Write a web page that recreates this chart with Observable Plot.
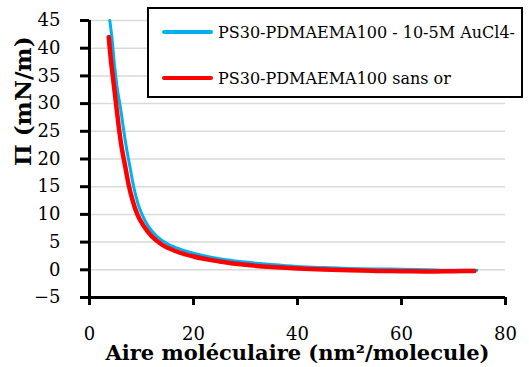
<!DOCTYPE html>
<html>
<head>
<meta charset="utf-8">
<script src="https://cdn.jsdelivr.net/npm/d3@7"></script>
<script src="https://cdn.jsdelivr.net/npm/@observablehq/plot@0.6"></script>
<style>
  html, body { margin: 0; padding: 0; background: #fff; }
  #wrap { position: relative; width: 529px; height: 367px; }
  #legend { position: absolute; left: 147px; top: 7px; width: 372px; height: 87px;
            border: 2px solid #000; background: #fff; font-family: "DejaVu Serif"; font-size: 16px; color: #000; }
  .item { position: absolute; left: 13px; height: 20px; display: flex; align-items: center; white-space: nowrap; }
  .sw { width: 51px; height: 4px; border-radius: 2px; margin-right: 5px; }
</style>
</head>
<body>
<div id="wrap"></div>
<script>
// Series names
const seriesNames = ["PS30-PDMAEMA100 - 10-5M AuCl4-", "PS30-PDMAEMA100 sans or"];
const seriesColors = ["#00B0F0", "#FF0000"];

// Blue series: PS30-PDMAEMA100 - 10-5M AuCl4-
const blueArea = [3.9, 4.3, 4.8, 5.3, 6.0, 6.6, 7.2, 7.8, 8.5, 9.3, 10.2, 11.5, 13, 15, 17.5, 20, 25, 30, 35, 40, 45, 50, 55, 60, 65, 70, 74.5];
const bluePi   = [45, 42, 37, 33, 29, 25, 21.5, 18.5, 15, 12, 9.8, 7.6, 6.0, 4.7, 3.7, 3.0, 2.0, 1.4, 0.95, 0.6, 0.4, 0.25, 0.15, 0.1, 0.0, -0.1, -0.1];

// Red series: PS30-PDMAEMA100 sans or
const redArea = [3.7, 4.1, 4.6, 5.1, 5.6, 6.2, 6.8, 7.5, 8.3, 9.2, 10.5, 12, 14, 16.5, 20, 25, 30, 35, 40, 45, 50, 55, 60, 65, 70, 74];
const redPi   = [42, 38, 34, 30, 26, 22, 19, 15.5, 12.5, 10, 7.8, 6.0, 4.5, 3.4, 2.4, 1.5, 0.9, 0.5, 0.25, 0.05, -0.1, -0.2, -0.25, -0.3, -0.25, -0.2];

// Axes
const xTicks = [0, 20, 40, 60, 80];
const yTicks = [-5, 0, 5, 10, 15, 20, 25, 30, 35, 40, 45];
const xLabel = "Aire moléculaire (nm²/molecule)";
const yLabel = "Π (mN/m)";

const blue = blueArea.map((x, i) => ({x, y: bluePi[i]}));
const red = redArea.map((x, i) => ({x, y: redPi[i]}));

const chart = Plot.plot({
  width: 529,
  height: 367,
  marginLeft: 89,
  marginRight: 24,
  marginTop: 20,
  marginBottom: 70,
  style: {fontFamily: "DejaVu Serif", fontSize: "18px", background: "#fff", color: "#000", overflow: "visible"},
  x: {domain: [0, 80]},
  y: {domain: [-5, 45]},
  marks: [
    Plot.gridY(yTicks.filter(d => d > -5), {stroke: "#D9D9D9", strokeOpacity: 1, strokeWidth: 1.5}),
    Plot.axisY({ticks: yTicks, tickSize: 9, tickPadding: 20, strokeWidth: 3, label: null, fontSize: 18}),
    Plot.axisX({ticks: xTicks, tickSize: 8, tickPadding: 22, strokeWidth: 3, label: null, fontSize: 18}),
    Plot.ruleX([0], {y1: -5, y2: 45, stroke: "#000", strokeWidth: 3}),
    Plot.ruleY([-5], {stroke: "#000", strokeWidth: 3}),
    Plot.line(blue, {x: "x", y: "y", stroke: seriesColors[0], strokeWidth: 3, curve: "monotone-x"}),
    Plot.line(red, {x: "x", y: "y", stroke: seriesColors[1], strokeWidth: 4.5, curve: "monotone-x"}),
    Plot.text([xLabel], {frameAnchor: "bottom", lineAnchor: "bottom", dy: 62, fontWeight: "bold", fontSize: 21}),
    Plot.text([yLabel], {frameAnchor: "left", rotate: -90, dx: -66, dy: 7, fontWeight: "bold", fontSize: 23})
  ]
});

const wrap = document.getElementById("wrap");
wrap.appendChild(chart);

const legend = document.createElement("div");
legend.id = "legend";
const rowTops = [13, 59];
seriesNames.forEach((name, i) => {
  const item = document.createElement("div");
  item.className = "item";
  item.style.top = rowTops[i] + "px";
  const sw = document.createElement("div");
  sw.className = "sw";
  sw.style.background = seriesColors[i];
  const t = document.createElement("span");
  t.textContent = name;
  item.appendChild(sw);
  item.appendChild(t);
  legend.appendChild(item);
});
wrap.appendChild(legend);
</script>
</body>
</html>
